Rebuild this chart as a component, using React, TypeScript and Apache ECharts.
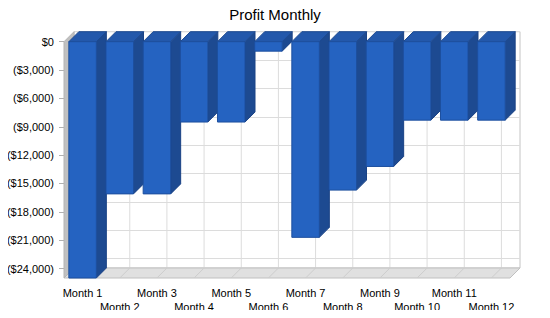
import React, { useEffect, useRef } from "react";
import * as echarts from "echarts";

const categories = [
  "Month 1", "Month 2", "Month 3", "Month 4", "Month 5", "Month 6",
  "Month 7", "Month 8", "Month 9", "Month 10", "Month 11", "Month 12",
];
const profit = [-25000, -16100, -16100, -8500, -8500, -1000, -20700, -15700, -13200, -8300, -8300, -8300];
const yMaxLoss = 25000;
const yInterval = 3000;

const DEPTH = 10;
const FONT = "'Liberation Sans', Arial, sans-serif";

const fmtMoney = (v: number) => (v === 0 ? "$0" : "($" + v.toLocaleString("en-US") + ")");

export default function App() {
  const ref = useRef<HTMLDivElement>(null);
  useEffect(() => {
    if (!ref.current) return;
    const chart = echarts.init(ref.current, undefined, { renderer: "svg" });
    const idx = categories.map((_, i) => i);
    chart.setOption({
      animation: false,
      backgroundColor: "#ffffff",
      title: {
        text: "Profit Monthly",
        left: "center",
        top: 2,
        textStyle: { fontFamily: FONT, fontSize: 15, fontWeight: "normal", color: "#000" },
      },
      grid: [
        { left: 64, right: 40, top: 41.7, bottom: 40, show: false },
        {
          left: 64 + DEPTH, right: 40 - DEPTH, top: 41.7 - DEPTH, bottom: 40 + DEPTH,
          show: true, backgroundColor: "#ffffff", borderColor: "#c4c4c4", borderWidth: 1,
        },
      ],
      xAxis: [
        {
          type: "category", gridIndex: 0, data: categories,
          axisLine: { show: false },
          axisTick: { show: true, alignWithLabel: true, interval: 0, length: 5, lineStyle: { color: "#b0b0b0" } },
          axisLabel: {
            interval: 0, margin: 8, fontFamily: FONT, fontSize: 11, color: "#000", lineHeight: 14,
            formatter: (v: string, i: number) => (i % 2 === 1 ? "\n" + v : v),
          },
          splitLine: { show: false },
        },
        {
          type: "category", gridIndex: 1, data: categories,
          axisLine: { show: false }, axisTick: { show: false }, axisLabel: { show: false },
          splitLine: { show: false },
        },
      ],
      yAxis: [
        {
          type: "value", gridIndex: 0, inverse: true, min: 0, max: yMaxLoss, interval: yInterval,
          axisLine: { show: false },
          axisTick: { show: true, length: 5, lineStyle: { color: "#b0b0b0" } },
          axisLabel: {
            margin: 10, fontFamily: FONT, fontSize: 11, color: "#000", showMaxLabel: false,
            formatter: (v: number) => fmtMoney(v),
          },
          splitLine: { show: false },
        },
        {
          type: "value", gridIndex: 1, inverse: true, min: 0, max: yMaxLoss, interval: yInterval,
          axisLine: { show: false }, axisTick: { show: false }, axisLabel: { show: false },
          splitLine: { show: true, lineStyle: { color: "#dcdcdc", width: 1 } },
        },
      ],
      series: [
        {
          type: "custom", xAxisIndex: 1, yAxisIndex: 1, z: 1,
          data: idx,
          renderItem: (params: any, api: any) => {
            const i = api.value(0);
            const a = api.coord([i, 0]);
            const b = api.coord([i, yMaxLoss]);
            return {
              type: "line",
              shape: { x1: a[0], y1: a[1], x2: b[0], y2: b[1] },
              style: { stroke: "#dcdcdc", lineWidth: 1 },
            };
          },
        },
        {
          type: "custom", xAxisIndex: 0, yAxisIndex: 0, z: 2,
          data: [0],
          renderItem: (params: any, api: any) => {
            const bw = api.size([1, 0])[0];
            const first = api.coord([0, 0]);
            const last = api.coord([categories.length - 1, yMaxLoss]);
            const L = first[0] - bw / 2;
            const R = last[0] + bw / 2;
            const yt = first[1];
            const yb = last[1];
            const d = DEPTH;
            const children: any[] = [
              {
                type: "polygon",
                shape: { points: [[L, yb], [R, yb], [R + d, yb - d], [L + d, yb - d]] },
                style: { fill: "#e0e0e0", stroke: "#c0c0c0", lineWidth: 1 },
              },
            ];
            categories.forEach((_, k) => {
              const cx = api.coord([k, yMaxLoss])[0];
              children.push({
                type: "line",
                shape: { x1: cx, y1: yb, x2: cx + d, y2: yb - d },
                style: { stroke: "#cdcdcd", lineWidth: 1 },
              });
            });
            children.push({
              type: "polygon",
              shape: { points: [[L, yt], [L + d, yt - d], [L + d, yb - d], [L, yb]] },
              style: { fill: "#c0c0c0", stroke: "#b4b4b4", lineWidth: 1 },
            });
            return { type: "group", children };
          },
        },
        {
          type: "custom", xAxisIndex: 0, yAxisIndex: 0, z: 3,
          data: profit.map((v, i) => [i, -v]),
          renderItem: (params: any, api: any) => {
            const i = api.value(0);
            const v = api.value(1);
            const top = api.coord([i, 0]);
            const bot = api.coord([i, v]);
            const bw = api.size([1, 0])[0] * 0.74;
            const x0 = top[0] - bw / 2;
            const x1 = top[0] + bw / 2;
            const yt = top[1];
            const yb = bot[1];
            const d = DEPTH;
            return {
              type: "group",
              children: [
                {
                  type: "polygon",
                  shape: { points: [[x1, yt], [x1 + d, yt - d], [x1 + d, yb - d], [x1, yb]] },
                  style: { fill: "#1d4a91", stroke: "#1a4285", lineWidth: 1 },
                },
                {
                  type: "polygon",
                  shape: { points: [[x0, yt], [x0 + d, yt - d], [x1 + d, yt - d], [x1, yt]] },
                  style: { fill: "#2358ab", stroke: "#1d4a91", lineWidth: 1 },
                },
                {
                  type: "rect",
                  shape: { x: x0, y: yt, width: bw, height: yb - yt },
                  style: { fill: "#2563c1", stroke: "#1d4f9e", lineWidth: 1 },
                },
              ],
            };
          },
        },
      ],
    });
    return () => chart.dispose();
  }, []);
  return <div ref={ref} style={{ width: 550, height: 318, margin: -8 }} />;
}
